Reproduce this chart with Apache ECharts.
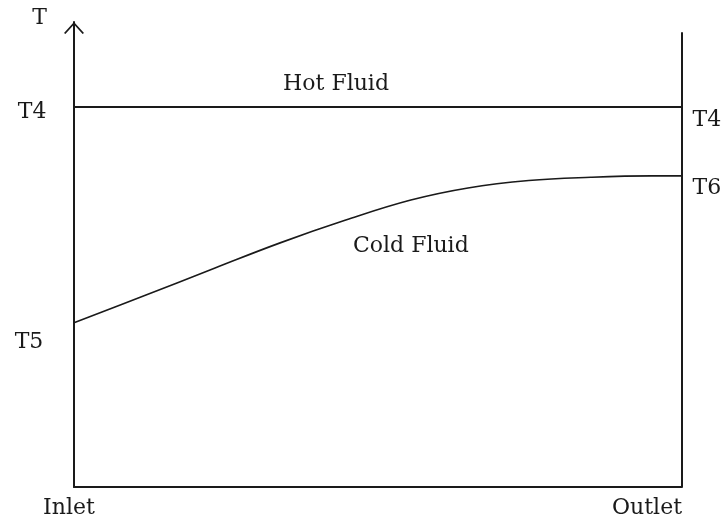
<!DOCTYPE html>
<html><head><meta charset="utf-8">
<script src="https://cdn.jsdelivr.net/npm/echarts@6/dist/echarts.min.js"></script>
<style>html,body{margin:0;padding:0;background:#fff}#c{width:726px;height:521px}</style>
</head><body><div id="c"></div>
<script>
// Position along exchanger (0 = inlet, 100 = outlet)
const positionX = [0, 11.1, 23.2, 33.9, 44.7, 55.4, 64.8, 74.8, 85, 95, 100];
// Cold fluid temperature (arbitrary T scale 0-100)
const coldFluid = [35.3, 40.9, 47.1, 52.5, 57.4, 61.7, 64.3, 65.9, 66.6, 66.9, 66.9];
// Hot fluid temperature (constant)
const hotX = [0, 100];
const hotFluid = [81.7, 81.7];
// Right (outlet) boundary line
const outletWallX = [100, 100];
const outletWallY = [0, 97.8];
// x tick labels
const xTickValues = [0, 100];
const xTickLabels = ['Inlet', 'Outlet'];
// Text annotations (centres in data coordinates)
const annotationNames = ['Hot Fluid', 'Cold Fluid', 'T4', 'T5', 'T4', 'T6'];
const annotationX = [43.1, 55.4, -6.9, -7.4, 104.1, 104.1];
const annotationY = [86.7, 51.8, 80.6, 31.2, 78.9, 64.3];

const FONT = 'DejaVu Serif';
const INK = '#1a1a1a';

const chart = echarts.init(document.getElementById('c'), null, {renderer: 'canvas'});
chart.setOption({
  animation: false,
  backgroundColor: '#fff',
  grid: {left: 74, right: 44, top: 22, bottom: 34},
  xAxis: {
    type: 'value', min: 0, max: 100, interval: 100,
    axisLine: {show: true, onZero: false, lineStyle: {color: INK, width: 2}},
    axisTick: {show: false},
    splitLine: {show: false},
    axisLabel: {
      show: true, margin: 10, color: INK, fontFamily: FONT, fontSize: 22,
      alignMinLabel: 'center', alignMaxLabel: 'right',
      formatter: v => {
        const i = xTickValues.indexOf(v);
        if (i < 0) return '';
        return i === 0 ? '{first|' + xTickLabels[i] + '}' : xTickLabels[i];
      },
      rich: {first: {color: INK, fontFamily: FONT, fontSize: 22, padding: [0, 10, 0, 0]}}
    }
  },
  yAxis: {
    type: 'value', min: 0, max: 100,
    name: 'T', nameLocation: 'end', nameGap: 4,
    nameTextStyle: {color: INK, fontFamily: FONT, fontSize: 22, align: 'right', verticalAlign: 'middle', padding: [0, 27, 0, 0]},
    axisLine: {
      show: true, onZero: false, lineStyle: {color: INK, width: 2},
      symbol: ['none', 'path://M10 0 L20 11 L18.6 12 L10 2.6 L1.4 12 L0 11 Z'],
      symbolSize: [20, 12], symbolOffset: [0, -6]
    },
    axisTick: {show: false},
    splitLine: {show: false},
    axisLabel: {show: false}
  },
  series: [
    {
      type: 'line', name: 'Hot Fluid', symbol: 'none',
      data: hotX.map((x, i) => [x, hotFluid[i]]),
      lineStyle: {color: INK, width: 2}
    },
    {
      type: 'line', name: 'Cold Fluid', symbol: 'none', smooth: 0.4,
      data: positionX.map((x, i) => [x, coldFluid[i]]),
      lineStyle: {color: INK, width: 1.6}
    },
    {
      type: 'line', name: 'Outlet', symbol: 'none',
      data: outletWallX.map((x, i) => [x, outletWallY[i]]),
      lineStyle: {color: INK, width: 2}
    },
    {
      type: 'scatter', clip: false, symbolSize: 1, silent: true,
      itemStyle: {color: 'rgba(0,0,0,0)', opacity: 1},
      label: {show: true, position: 'inside', color: INK, opacity: 1, fontFamily: FONT, fontSize: 22, formatter: p => p.name},
      data: annotationNames.map((n, i) => ({name: n, value: [annotationX[i], annotationY[i]]}))
    }
  ]
});
</script>
</body></html>
